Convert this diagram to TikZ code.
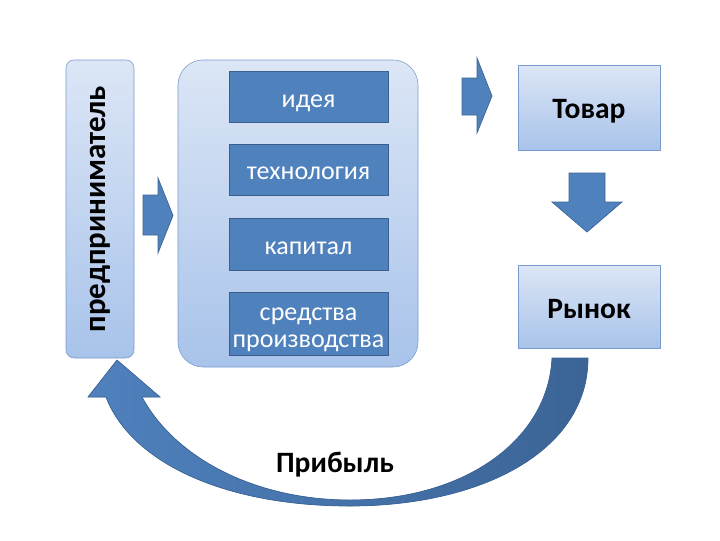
\documentclass[tikz,border=0pt]{standalone}
\usepackage{fontspec}
\setmainfont{Carlito}
\newlength\pxu
\setlength\pxu{0.025cm}
\newcommand\lowtext[2]{\raisebox{-#1}[\height][\depth]{#2}}
\definecolor{lightTop}{HTML}{DCE6F6}
\definecolor{lightBot}{HTML}{A8C3EA}
\definecolor{lightLine}{HTML}{7A9BCF}
\definecolor{darkFill}{HTML}{4F81BD}
\definecolor{darkLine}{HTML}{3A5F8E}
\definecolor{arrowLine}{HTML}{3C6496}
\begin{document}
\begin{tikzpicture}[x=0.025cm, y=-0.025cm,
  lightbox/.style={draw=lightLine, top color=lightTop, bottom color=lightBot, rectangle},
  darkbox/.style={draw=darkLine, fill=darkFill, rectangle, text=white,
    minimum width=159\pxu, font=\fontsize{18.5}{19.5}\selectfont, inner sep=1pt,
    text height=1.55ex, text depth=0.45ex},
  bigword/.style={font=\bfseries\fontsize{21}{23}\selectfont},
  blockarrow/.style={draw=arrowLine, fill=darkFill, line width=0.5pt, line join=miter}]
\useasboundingbox (0,0) rectangle (720,540);

\node[lightbox, rounded corners=8\pxu, rotate=90,
  minimum width=298\pxu, minimum height=68\pxu, font=\bfseries\fontsize{22}{24}\selectfont] (entr) at (100,209) {предприниматель};

\node[lightbox, rounded corners=25\pxu, minimum width=240\pxu, minimum height=307\pxu] (res) at (298,213.5) {};
\node[darkbox, minimum height=51\pxu] (idea) at (308.5,97) {\lowtext{4.5pt}{идея}};
\node[darkbox, minimum height=51\pxu] (tech) at (308.5,169.5) {\lowtext{4.5pt}{технология}};
\node[darkbox, minimum height=52\pxu] (cap) at (308.5,244) {\lowtext{4.5pt}{капитал}};
\node[darkbox, minimum height=63\pxu, text height=, text depth=] (means) at (308.5,323.5)
  {\lowtext{3.5pt}{\begin{tabular}{@{}c@{}}средства\\производства\end{tabular}}};

\node[lightbox, minimum width=142\pxu, minimum height=85\pxu, bigword] (goods) at (589,107.5) {\lowtext{3pt}{Товар}};
\node[lightbox, minimum width=142\pxu, minimum height=83\pxu, bigword] (market) at (589,306.5) {\lowtext{2pt}{Рынок}};

% block arrows
\draw[blockarrow] (143,195) -- (158,195) -- (158,178) -- (173,215.5) -- (158,253) -- (158,235) -- (143,235) -- cycle;
\draw[blockarrow] (462,78) -- (477,78) -- (477,58) -- (492,96) -- (477,133) -- (477,115) -- (462,115) -- cycle;
\draw[blockarrow] (569,173) -- (605,173) -- (605,202) -- (622,202) -- (587,232) -- (552,202) -- (569,202) -- cycle;

% profit loop
\coordinate (loopR) at (588,358);
\coordinate (tip) at (117,360);
\draw[blockarrow, left color=darkFill, right color=arrowLine]
  (loopR) .. controls (588,452) and (480,506) .. (350,506)
  .. controls (220,506) and (130,460) .. (106,397)
  -- (88,397) -- (tip) -- (160,397) -- (142,397)
  .. controls (175,458) and (255,500) .. (350,500)
  .. controls (465,500) and (548,440) .. (552,358) -- cycle;
\node[bigword] (profit) at (335,465) {Прибыль};
\end{tikzpicture}
\end{document}
